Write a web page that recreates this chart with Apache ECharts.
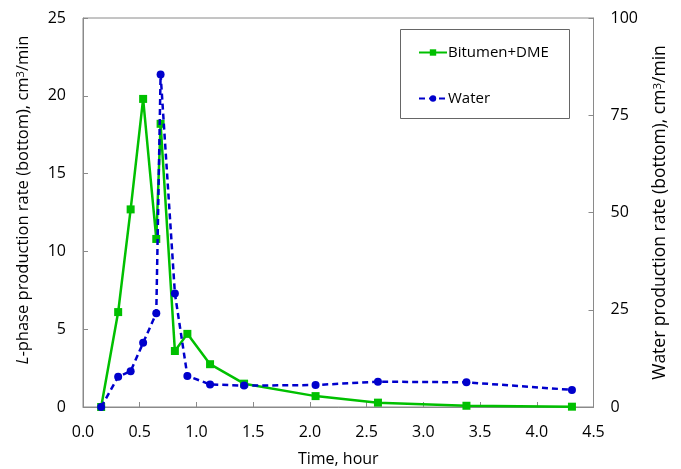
<!DOCTYPE html>
<html>
<head>
<meta charset="utf-8">
<script src="https://cdn.jsdelivr.net/npm/echarts@6/dist/echarts.min.js"></script>
<style>html,body{margin:0;padding:0;background:#fff}#c{width:681px;height:469px}</style>
</head>
<body>
<div id="c"></div>
<script>
var bitumenTime = [0.16, 0.31, 0.42, 0.53, 0.646, 0.684, 0.81, 0.92, 1.12, 1.42, 2.05, 2.60, 3.38, 4.31];
var bitumenRate = [0.0, 6.1, 12.7, 19.8, 10.8, 18.2, 3.6, 4.7, 2.75, 1.5, 0.7, 0.28, 0.08, 0.02];
var waterTime = [0.16, 0.31, 0.42, 0.53, 0.646, 0.684, 0.81, 0.92, 1.12, 1.42, 2.05, 2.60, 3.38, 4.31];
var waterRate = [0.0, 7.8, 9.2, 16.5, 24.1, 85.5, 29.2, 8.0, 5.8, 5.5, 5.65, 6.5, 6.35, 4.4];
var xTicks = [0, 0.5, 1, 1.5, 2, 2.5, 3, 3.5, 4, 4.5];

var FONT = 'Open Sans';
var axisCol = '#8a8a8a';
var chart = echarts.init(document.getElementById('c'));
function pairs(xs, ys){ return xs.map(function(x,i){return [x, ys[i]];}); }
chart.setOption({
  animation: false,
  textStyle: {fontFamily: FONT},
  grid: {left: 83, right: 681-593.5, top: 18, bottom: 469-407, show: true, borderColor: axisCol, borderWidth: 1,
         containLabel: false, outerBoundsMode: 'none'},
  graphic: [{type: 'rect', shape: {x: 400.5, y: 29.5, width: 169, height: 89}, style: {fill: 'none', stroke: '#666', lineWidth: 1}, z: 100}],
  legend: {
    left: 413, top: 40, orient: 'vertical', itemGap: 31, itemWidth: 28, itemHeight: 8,
    textStyle: {fontFamily: FONT, fontSize: 15, color: '#000', padding: [0,0,0,-4]},
    data: ['Bitumen+DME', 'Water']
  },
  xAxis: {
    type: 'value', min: 0, max: 4.5, interval: 0.5,
    name: 'Time, hour', nameLocation: 'middle', nameGap: 44,
    nameTextStyle: {fontFamily: FONT, fontSize: 16, color: '#000'},
    axisLine: {show: true, lineStyle: {color: axisCol}},
    axisTick: {show: true, inside: true, length: 5, lineStyle: {color: axisCol}},
    axisLabel: {fontFamily: FONT, fontSize: 16, color: '#000', margin: 17, formatter: function(v){return v.toFixed(1);}},
    splitLine: {show: false}
  },
  yAxis: [{
    type: 'value', min: 0, max: 25, interval: 5, position: 'left',
    name: '{i|L}-phase production rate (bottom), cm{s|3}/min', nameLocation: 'middle', nameGap: 51,
    nameTextStyle: {fontFamily: FONT, fontSize: 16.5, color: '#000', padding: [0,0,0,25],
      rich: {i: {fontStyle: 'italic', fontFamily: FONT, fontSize: 16.5, color: '#000'},
             s: {fontSize: 11, fontFamily: FONT, color: '#000', verticalAlign: 'top', padding: [0,0,6,0]}}},
    axisLine: {show: true, lineStyle: {color: axisCol}},
    axisTick: {show: true, inside: true, length: 5, lineStyle: {color: axisCol}},
    axisLabel: {fontFamily: FONT, fontSize: 16, color: '#000', margin: 17},
    splitLine: {show: false}
  }, {
    type: 'value', min: 0, max: 100, interval: 25, position: 'right',
    name: 'Water production rate (bottom), cm{s|3}/min', nameLocation: 'middle', nameGap: 58,
    nameRotate: 90,
    nameTextStyle: {fontFamily: FONT, fontSize: 17.5, color: '#000',
      rich: {s: {fontSize: 11.5, fontFamily: FONT, color: '#000', verticalAlign: 'top', padding: [0,0,6,0]}}},
    axisLine: {show: true, lineStyle: {color: axisCol}},
    axisTick: {show: true, inside: true, length: 5, lineStyle: {color: axisCol}},
    axisLabel: {fontFamily: FONT, fontSize: 16, color: '#000', margin: 17},
    splitLine: {show: false}
  }],
  series: [{
    name: 'Bitumen+DME', type: 'line', yAxisIndex: 0, data: pairs(bitumenTime, bitumenRate),
    symbol: 'rect', symbolSize: 8, itemStyle: {color: '#00c000'},
    lineStyle: {color: '#00c000', width: 2.5}, z: 3
  }, {
    name: 'Water', type: 'line', yAxisIndex: 1, data: pairs(waterTime, waterRate),
    symbol: 'circle', symbolSize: 8, itemStyle: {color: '#0000cc'},
    lineStyle: {color: '#0000cc', width: 2.5, type: [6, 4]}, z: 4
  }]
});
</script>
</body>
</html>
